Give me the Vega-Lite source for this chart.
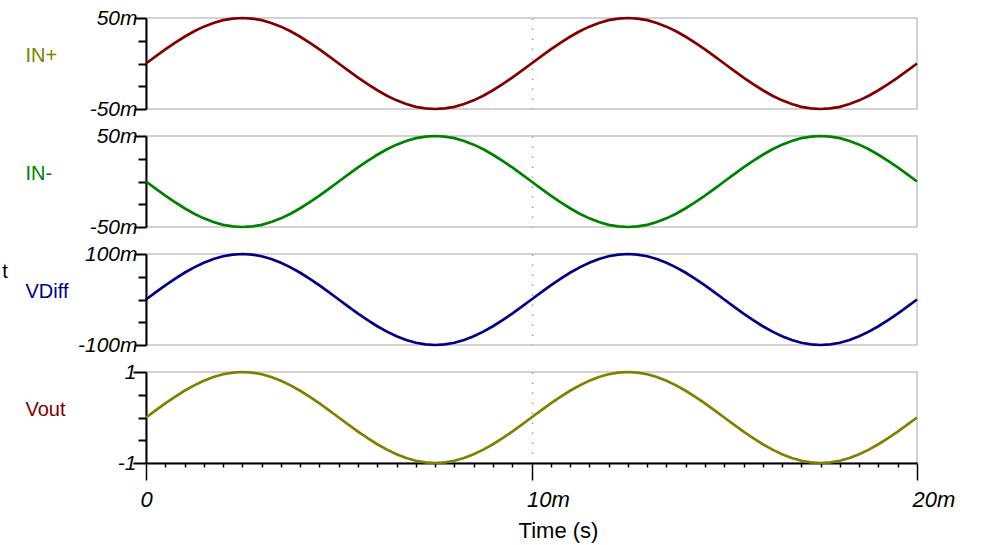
{
  "$schema": "https://vega.github.io/schema/vega-lite/v6.json",
  "background": "white",
  "padding": {"left": 2, "top": 6, "right": 5, "bottom": 5},
  "title": {"text": "t", "orient": "left", "angle": 0, "anchor": "middle", "align": "right", "baseline": "alphabetic", "dy": 4, "offset": 11, "fontSize": 20, "fontWeight": "normal", "font": "Liberation Sans", "color": "black"},
  "data": {"values": [
    {"t":0,"inp":0,"inm":0,"vdiff":0,"vout":0},
    {"t":0.25,"inp":7.8,"inm":-7.8,"vdiff":15.6,"vout":0.156},
    {"t":0.5,"inp":15.5,"inm":-15.5,"vdiff":30.9,"vout":0.309},
    {"t":0.75,"inp":22.7,"inm":-22.7,"vdiff":45.4,"vout":0.454},
    {"t":1,"inp":29.4,"inm":-29.4,"vdiff":58.8,"vout":0.588},
    {"t":1.25,"inp":35.4,"inm":-35.4,"vdiff":70.7,"vout":0.707},
    {"t":1.5,"inp":40.5,"inm":-40.5,"vdiff":80.9,"vout":0.809},
    {"t":1.75,"inp":44.6,"inm":-44.6,"vdiff":89.1,"vout":0.891},
    {"t":2,"inp":47.6,"inm":-47.6,"vdiff":95.1,"vout":0.951},
    {"t":2.25,"inp":49.4,"inm":-49.4,"vdiff":98.8,"vout":0.988},
    {"t":2.5,"inp":50,"inm":-50,"vdiff":100,"vout":1},
    {"t":2.75,"inp":49.4,"inm":-49.4,"vdiff":98.8,"vout":0.988},
    {"t":3,"inp":47.6,"inm":-47.6,"vdiff":95.1,"vout":0.951},
    {"t":3.25,"inp":44.6,"inm":-44.6,"vdiff":89.1,"vout":0.891},
    {"t":3.5,"inp":40.5,"inm":-40.5,"vdiff":80.9,"vout":0.809},
    {"t":3.75,"inp":35.4,"inm":-35.4,"vdiff":70.7,"vout":0.707},
    {"t":4,"inp":29.4,"inm":-29.4,"vdiff":58.8,"vout":0.588},
    {"t":4.25,"inp":22.7,"inm":-22.7,"vdiff":45.4,"vout":0.454},
    {"t":4.5,"inp":15.5,"inm":-15.5,"vdiff":30.9,"vout":0.309},
    {"t":4.75,"inp":7.8,"inm":-7.8,"vdiff":15.6,"vout":0.156},
    {"t":5,"inp":0,"inm":0,"vdiff":0,"vout":0},
    {"t":5.25,"inp":-7.8,"inm":7.8,"vdiff":-15.6,"vout":-0.156},
    {"t":5.5,"inp":-15.5,"inm":15.5,"vdiff":-30.9,"vout":-0.309},
    {"t":5.75,"inp":-22.7,"inm":22.7,"vdiff":-45.4,"vout":-0.454},
    {"t":6,"inp":-29.4,"inm":29.4,"vdiff":-58.8,"vout":-0.588},
    {"t":6.25,"inp":-35.4,"inm":35.4,"vdiff":-70.7,"vout":-0.707},
    {"t":6.5,"inp":-40.5,"inm":40.5,"vdiff":-80.9,"vout":-0.809},
    {"t":6.75,"inp":-44.6,"inm":44.6,"vdiff":-89.1,"vout":-0.891},
    {"t":7,"inp":-47.6,"inm":47.6,"vdiff":-95.1,"vout":-0.951},
    {"t":7.25,"inp":-49.4,"inm":49.4,"vdiff":-98.8,"vout":-0.988},
    {"t":7.5,"inp":-50,"inm":50,"vdiff":-100,"vout":-1},
    {"t":7.75,"inp":-49.4,"inm":49.4,"vdiff":-98.8,"vout":-0.988},
    {"t":8,"inp":-47.6,"inm":47.6,"vdiff":-95.1,"vout":-0.951},
    {"t":8.25,"inp":-44.6,"inm":44.6,"vdiff":-89.1,"vout":-0.891},
    {"t":8.5,"inp":-40.5,"inm":40.5,"vdiff":-80.9,"vout":-0.809},
    {"t":8.75,"inp":-35.4,"inm":35.4,"vdiff":-70.7,"vout":-0.707},
    {"t":9,"inp":-29.4,"inm":29.4,"vdiff":-58.8,"vout":-0.588},
    {"t":9.25,"inp":-22.7,"inm":22.7,"vdiff":-45.4,"vout":-0.454},
    {"t":9.5,"inp":-15.5,"inm":15.5,"vdiff":-30.9,"vout":-0.309},
    {"t":9.75,"inp":-7.8,"inm":7.8,"vdiff":-15.6,"vout":-0.156},
    {"t":10,"inp":0,"inm":0,"vdiff":0,"vout":0},
    {"t":10.25,"inp":7.8,"inm":-7.8,"vdiff":15.6,"vout":0.156},
    {"t":10.5,"inp":15.5,"inm":-15.5,"vdiff":30.9,"vout":0.309},
    {"t":10.75,"inp":22.7,"inm":-22.7,"vdiff":45.4,"vout":0.454},
    {"t":11,"inp":29.4,"inm":-29.4,"vdiff":58.8,"vout":0.588},
    {"t":11.25,"inp":35.4,"inm":-35.4,"vdiff":70.7,"vout":0.707},
    {"t":11.5,"inp":40.5,"inm":-40.5,"vdiff":80.9,"vout":0.809},
    {"t":11.75,"inp":44.6,"inm":-44.6,"vdiff":89.1,"vout":0.891},
    {"t":12,"inp":47.6,"inm":-47.6,"vdiff":95.1,"vout":0.951},
    {"t":12.25,"inp":49.4,"inm":-49.4,"vdiff":98.8,"vout":0.988},
    {"t":12.5,"inp":50,"inm":-50,"vdiff":100,"vout":1},
    {"t":12.75,"inp":49.4,"inm":-49.4,"vdiff":98.8,"vout":0.988},
    {"t":13,"inp":47.6,"inm":-47.6,"vdiff":95.1,"vout":0.951},
    {"t":13.25,"inp":44.6,"inm":-44.6,"vdiff":89.1,"vout":0.891},
    {"t":13.5,"inp":40.5,"inm":-40.5,"vdiff":80.9,"vout":0.809},
    {"t":13.75,"inp":35.4,"inm":-35.4,"vdiff":70.7,"vout":0.707},
    {"t":14,"inp":29.4,"inm":-29.4,"vdiff":58.8,"vout":0.588},
    {"t":14.25,"inp":22.7,"inm":-22.7,"vdiff":45.4,"vout":0.454},
    {"t":14.5,"inp":15.5,"inm":-15.5,"vdiff":30.9,"vout":0.309},
    {"t":14.75,"inp":7.8,"inm":-7.8,"vdiff":15.6,"vout":0.156},
    {"t":15,"inp":0,"inm":0,"vdiff":0,"vout":0},
    {"t":15.25,"inp":-7.8,"inm":7.8,"vdiff":-15.6,"vout":-0.156},
    {"t":15.5,"inp":-15.5,"inm":15.5,"vdiff":-30.9,"vout":-0.309},
    {"t":15.75,"inp":-22.7,"inm":22.7,"vdiff":-45.4,"vout":-0.454},
    {"t":16,"inp":-29.4,"inm":29.4,"vdiff":-58.8,"vout":-0.588},
    {"t":16.25,"inp":-35.4,"inm":35.4,"vdiff":-70.7,"vout":-0.707},
    {"t":16.5,"inp":-40.5,"inm":40.5,"vdiff":-80.9,"vout":-0.809},
    {"t":16.75,"inp":-44.6,"inm":44.6,"vdiff":-89.1,"vout":-0.891},
    {"t":17,"inp":-47.6,"inm":47.6,"vdiff":-95.1,"vout":-0.951},
    {"t":17.25,"inp":-49.4,"inm":49.4,"vdiff":-98.8,"vout":-0.988},
    {"t":17.5,"inp":-50,"inm":50,"vdiff":-100,"vout":-1},
    {"t":17.75,"inp":-49.4,"inm":49.4,"vdiff":-98.8,"vout":-0.988},
    {"t":18,"inp":-47.6,"inm":47.6,"vdiff":-95.1,"vout":-0.951},
    {"t":18.25,"inp":-44.6,"inm":44.6,"vdiff":-89.1,"vout":-0.891},
    {"t":18.5,"inp":-40.5,"inm":40.5,"vdiff":-80.9,"vout":-0.809},
    {"t":18.75,"inp":-35.4,"inm":35.4,"vdiff":-70.7,"vout":-0.707},
    {"t":19,"inp":-29.4,"inm":29.4,"vdiff":-58.8,"vout":-0.588},
    {"t":19.25,"inp":-22.7,"inm":22.7,"vdiff":-45.4,"vout":-0.454},
    {"t":19.5,"inp":-15.5,"inm":15.5,"vdiff":-30.9,"vout":-0.309},
    {"t":19.75,"inp":-7.8,"inm":7.8,"vdiff":-15.6,"vout":-0.156},
    {"t":20,"inp":0,"inm":0,"vdiff":0,"vout":0}
  ]},
  "spacing": 27,
  "bounds": "flush",
  "vconcat": [
    {
      "width": 771, "height": 91,
      "mark": {"type": "line", "color": "#800000", "strokeWidth": 2.7},
      "encoding": {
        "x": {"field": "t", "type": "quantitative", "scale": {"domain": [0, 20], "nice": false},
          "axis": {"values": [10], "grid": true, "labels": false, "ticks": false, "domain": false, "title": null}},
        "y": {"field": "inp", "type": "quantitative", "scale": {"domain": [-50, 50], "nice": false},
          "axis": {"values": [-50, -25, 0, 25, 50], "labelExpr": "datum.value == 50 ? '50m' : datum.value == -50 ? '-50m' : ''", "title": "IN+", "titleColor": "#808000", "titleX": -121, "titleY": 37,
            "tickSize": {"condition": {"test": "abs(datum.value) == 50", "value": 12}, "value": 8}}}
      }
    },
    {
      "width": 771, "height": 91,
      "mark": {"type": "line", "color": "#008000", "strokeWidth": 2.7},
      "encoding": {
        "x": {"field": "t", "type": "quantitative", "scale": {"domain": [0, 20], "nice": false},
          "axis": {"values": [10], "grid": true, "labels": false, "ticks": false, "domain": false, "title": null}},
        "y": {"field": "inm", "type": "quantitative", "scale": {"domain": [-50, 50], "nice": false},
          "axis": {"values": [-50, -25, 0, 25, 50], "labelExpr": "datum.value == 50 ? '50m' : datum.value == -50 ? '-50m' : ''", "title": "IN-", "titleColor": "#008000", "titleX": -121, "titleY": 37,
            "tickSize": {"condition": {"test": "abs(datum.value) == 50", "value": 12}, "value": 8}}}
      }
    },
    {
      "width": 771, "height": 91,
      "mark": {"type": "line", "color": "#000080", "strokeWidth": 2.7},
      "encoding": {
        "x": {"field": "t", "type": "quantitative", "scale": {"domain": [0, 20], "nice": false},
          "axis": {"values": [10], "grid": true, "labels": false, "ticks": false, "domain": false, "title": null}},
        "y": {"field": "vdiff", "type": "quantitative", "scale": {"domain": [-100, 100], "nice": false},
          "axis": {"values": [-100, -50, 0, 50, 100], "labelExpr": "datum.value == 100 ? '100m' : datum.value == -100 ? '-100m' : ''", "title": "VDiff", "titleColor": "#000080", "titleX": -121, "titleY": 37,
            "tickSize": {"condition": {"test": "abs(datum.value) == 100", "value": 12}, "value": 8}}}
      }
    },
    {
      "width": 771, "height": 91,
      "mark": {"type": "line", "color": "#808000", "strokeWidth": 2.7},
      "encoding": {
        "x": {"field": "t", "type": "quantitative", "scale": {"domain": [0, 20], "nice": false},
          "axis": {
            "values": [0,0.5,1,1.5,2,2.5,3,3.5,4,4.5,5,5.5,6,6.5,7,7.5,8,8.5,9,9.5,10,10.5,11,11.5,12,12.5,13,13.5,14,14.5,15,15.5,16,16.5,17,17.5,18,18.5,19,19.5,20],
            "grid": true,
            "gridOpacity": {"condition": {"test": "datum.value == 10", "value": 1}, "value": 0},
            "tickSize": {"condition": {"test": "datum.value % 10 == 0", "value": 17}, "value": 4},
            "labelExpr": "datum.value == 0 ? '0' : datum.value % 10 == 0 ? datum.value + 'm' : ''",
            "labelAlign": {"condition": {"test": "datum.value == 0", "value": "center"}, "value": "left"},
            "labelOffset": {"condition": {"test": "datum.value == 0", "value": 0}, "value": -5},
            "labelFlush": false, "labelOverlap": false,
            "labelFontStyle": "italic", "labelFontSize": 22, "labelColor": "black", "labelPadding": 9,
            "domainColor": "black", "domainWidth": 2, "tickColor": "black", "tickWidth": 1.5,
            "title": "Time (s)", "titleFontSize": 22, "titleFontWeight": "normal", "titleColor": "black", "titleX": 412, "titlePadding": 10
          }},
        "y": {"field": "vout", "type": "quantitative", "scale": {"domain": [-1, 1], "nice": false},
          "axis": {"values": [-1, -0.5, 0, 0.5, 1], "labelExpr": "datum.value == 1 ? '1' : datum.value == -1 ? '-1' : ''", "title": "Vout", "titleColor": "#800000", "titleX": -121, "titleY": 37,
            "tickSize": {"condition": {"test": "abs(datum.value) == 1", "value": 13}, "value": 8}}}
      }
    }
  ],
  "config": {
    "font": "Liberation Sans",
    "view": {"stroke": "#c4c4c4", "strokeWidth": 1.5},
    "axisX": {"gridColor": "#a0a0a0", "gridDash": [1.5, 8.5], "gridWidth": 1.5},
    "axisY": {
      "grid": false,
      "labelFontStyle": "italic", "labelFontSize": 21, "labelColor": "black", "labelPadding": -3,
      "tickColor": "black", "tickWidth": 2,
      "domainColor": "black", "domainWidth": 2,
      "titleAngle": 0, "titleAlign": "left", "titleBaseline": "middle",
      "titleFontSize": 20, "titleFontWeight": "normal"
    }
  }
}
